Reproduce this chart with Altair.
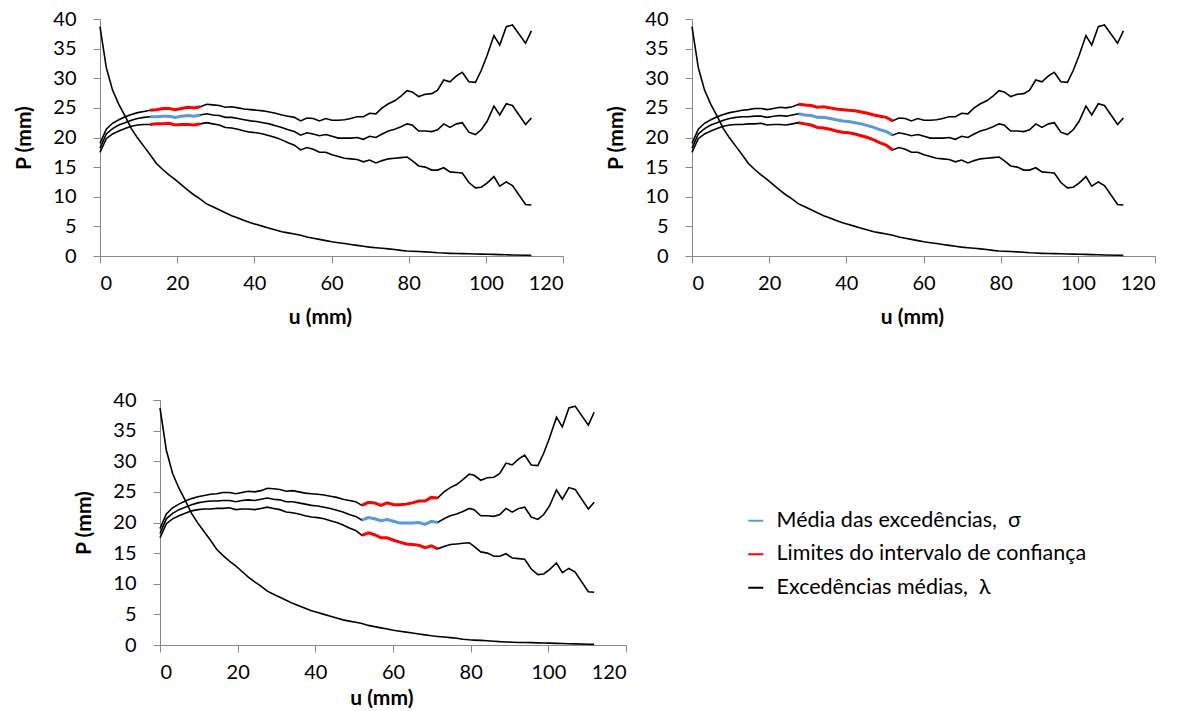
import altair as alt
import pandas as pd

# Limiares u (mm)
u = [0, 1.63, 3.25, 4.88, 6.5, 8.13, 9.75, 11.38, 13.0, 14.63,
     16.25, 17.88, 19.5, 21.13, 22.75, 24.38, 26.0, 27.63, 29.25, 30.88,
     32.5, 34.13, 35.75, 37.38, 39.0, 40.63, 42.25, 43.88, 45.5, 47.13,
     48.75, 50.38, 52.0, 53.63, 55.25, 56.88, 58.5, 60.13, 61.75, 63.38,
     65.0, 66.63, 68.25, 69.88, 71.5, 73.13, 74.75, 76.38, 78.0, 79.6,
     80.9, 82.6, 84.3, 86.0, 87.5, 89.1, 90.7, 92.4, 93.9, 95.6,
     97.3, 98.8, 100.3, 102.1, 103.6, 105.3, 106.9, 110.3, 111.8]

# Limite superior do intervalo de confiança
p_sup = [19.0, 21.4, 22.4, 23.0, 23.5, 23.9, 24.2, 24.4, 24.6, 24.7,
         24.9, 24.9, 24.7, 24.9, 25.1, 25.0, 25.2, 25.6, 25.5, 25.4,
         25.1, 25.2, 25.0, 24.8, 24.7, 24.6, 24.5, 24.3, 24.1, 23.8,
         23.6, 23.4, 22.8, 23.3, 23.2, 22.8, 23.2, 22.9, 22.9, 23.0,
         23.2, 23.5, 23.5, 24.1, 24.0, 25.0, 25.7, 26.2, 27.0, 27.9,
         27.7, 26.9, 27.3, 27.4, 28.0, 29.7, 29.4, 30.4, 31.0, 29.4,
         29.3, 31.3, 33.8, 37.2, 35.6, 38.7, 39.0, 35.9, 38.0]

# Média das excedências
p_med = [18.2, 20.6, 21.5, 22.1, 22.5, 22.9, 23.2, 23.4, 23.5, 23.5,
         23.6, 23.6, 23.4, 23.6, 23.7, 23.6, 23.8, 24.0, 23.8, 23.7,
         23.4, 23.4, 23.2, 23.0, 22.8, 22.7, 22.5, 22.3, 22.0, 21.7,
         21.3, 21.0, 20.4, 20.8, 20.6, 20.3, 20.5, 20.2, 19.9, 19.9,
         19.9, 20.0, 19.7, 20.2, 20.0, 20.6, 21.1, 21.4, 21.8, 22.3,
         22.1, 21.1, 21.1, 21.0, 21.3, 22.3, 21.7, 22.3, 22.5, 20.9,
         20.5, 21.3, 22.7, 25.3, 23.8, 25.7, 25.4, 22.2, 23.3]

# Limite inferior do intervalo de confiança
p_inf = [17.5, 19.8, 20.6, 21.1, 21.5, 21.9, 22.1, 22.2, 22.2, 22.3,
         22.3, 22.4, 22.1, 22.2, 22.2, 22.1, 22.3, 22.5, 22.3, 22.1,
         21.7, 21.6, 21.4, 21.1, 20.9, 20.8, 20.6, 20.3, 20.0, 19.6,
         19.1, 18.7, 17.9, 18.3, 18.0, 17.5, 17.5, 17.1, 16.8, 16.5,
         16.4, 16.3, 15.9, 16.2, 15.7, 16.1, 16.4, 16.5, 16.6, 16.7,
         16.1, 15.2, 15.0, 14.5, 14.5, 14.9, 14.2, 14.1, 14.0, 12.4,
         11.5, 11.6, 12.3, 13.4, 11.8, 12.5, 11.9, 8.7, 8.6]

# Excedências médias, lambda
lam = [38.7, 31.8, 28.0, 25.6, 23.6, 21.5, 19.9, 18.5, 17.1, 15.6,
       14.6, 13.7, 12.9, 12.0, 11.1, 10.3, 9.6, 8.8, 8.3, 7.8,
       7.3, 6.8, 6.4, 6.0, 5.6, 5.3, 5.0, 4.7, 4.4, 4.1,
       3.9, 3.7, 3.5, 3.2, 3.0, 2.8, 2.6, 2.4, 2.25, 2.1,
       1.95, 1.8, 1.65, 1.5, 1.4, 1.3, 1.2, 1.1, 0.95, 0.85,
       0.8, 0.75, 0.7, 0.62, 0.55, 0.5, 0.45, 0.42, 0.4, 0.38,
       0.35, 0.32, 0.3, 0.27, 0.24, 0.2, 0.18, 0.12, 0.1]

# Faixas de limiares destacadas em cada painel (índices inicial e final)
faixas = [(8, 16), (17, 32), (32, 44)]

LEG_SIGMA = "Média das excedências,\u00a0\u00a0σ"
LEG_LIM = "Limites do intervalo de confiança"
LEG_LAM = "Excedências médias,\u00a0\u00a0λ"

series = {"sup": p_sup, "med": p_med, "inf": p_inf, "lam": lam}

linhas = []
for nome, vals in series.items():
    for x, y in zip(u, vals):
        linhas.append({"u": x, "P": y, "serie": nome, "grupo": LEG_LAM})
df_base = pd.DataFrame(linhas)


def destaque(i0, i1):
    rows = []
    for nome, grupo in (("sup", LEG_LIM), ("med", LEG_SIGMA), ("inf", LEG_LIM)):
        vals = series[nome]
        for i in range(i0, i1 + 1):
            rows.append({"u": u[i], "P": vals[i], "serie": nome, "grupo": grupo})
    return pd.DataFrame(rows)


escala_cor = alt.Scale(domain=[LEG_SIGMA, LEG_LIM, LEG_LAM],
                       range=["#5B9BD5", "#FF0000", "#000000"])


def painel(k, w, h, mostrar_legenda=False, pad_titulo_x=13):
    if mostrar_legenda:
        leg = alt.Legend(title=None, orient="none", legendX=585, legendY=110,
                         symbolType="stroke", symbolSize=225, symbolStrokeWidth=2,
                         labelFont="Lato", labelFontSize=21.5, labelColor="#000",
                         labelLimit=0, labelOffset=10, rowPadding=10.5, padding=0)
    else:
        leg = None
    x = alt.X("u:Q", scale=alt.Scale(domain=[0, 120], nice=False),
              axis=alt.Axis(values=list(range(0, 121, 20)), title="u (mm)",
                            titleX=w * 57 / 120, titlePadding=pad_titulo_x))
    y = alt.Y("P:Q", scale=alt.Scale(domain=[0, 40], nice=False),
              axis=alt.Axis(values=list(range(0, 41, 5)), title="P (mm)"))
    cor = alt.Color("grupo:N", scale=escala_cor, legend=leg)
    base = alt.Chart(df_base).mark_line(strokeWidth=1.6).encode(
        x=x, y=y, color=cor, detail="serie:N")
    i0, i1 = faixas[k]
    hl = alt.Chart(destaque(i0, i1)).mark_line(strokeWidth=3).encode(
        x=x, y=y, color=cor, detail="serie:N")
    return alt.layer(base, hl).properties(width=w, height=h)


def espaco(largura):
    # bloco vazio que apenas ocupa largura à esquerda de uma linha
    return alt.Chart(pd.DataFrame({"v": [0]})).mark_point(opacity=0).encode(
        x=alt.X("v:Q", axis=None), y=alt.Y("v:Q", axis=None)
    ).properties(width=largura, height=10)


p1 = painel(0, 463, 237)
p2 = painel(1, 463, 237)
p3 = painel(2, 466, 245, mostrar_legenda=True, pad_titulo_x=5)

paineis_sup = alt.hconcat(p1, p2, spacing=41).resolve_scale(color="independent")
linha_sup = alt.hconcat(espaco(1), paineis_sup, spacing=0).resolve_scale(
    color="independent", x="independent", y="independent")
linha_inf = alt.hconcat(espaco(64), p3, spacing=0).resolve_scale(
    color="independent", x="independent", y="independent")

chart = alt.vconcat(linha_sup, linha_inf, spacing=63).resolve_scale(
    color="independent"
).properties(
    padding={"left": 6, "top": 9, "right": 5, "bottom": 0}
).configure_view(stroke=None).configure_axis(
    grid=False, domainColor="#898989", tickColor="#898989", tickSize=7,
    labelFont="Lato", labelFontSize=20, labelColor="#000",
    titleFont="Lato", titleFontSize=21, titleFontWeight="bold", titleColor="#000"
).configure_axisY(labelPadding=17, titlePadding=18).configure_axisX(
    labelPadding=10)

chart.save("out.html", embed_options={"renderer": "svg", "actions": False})
